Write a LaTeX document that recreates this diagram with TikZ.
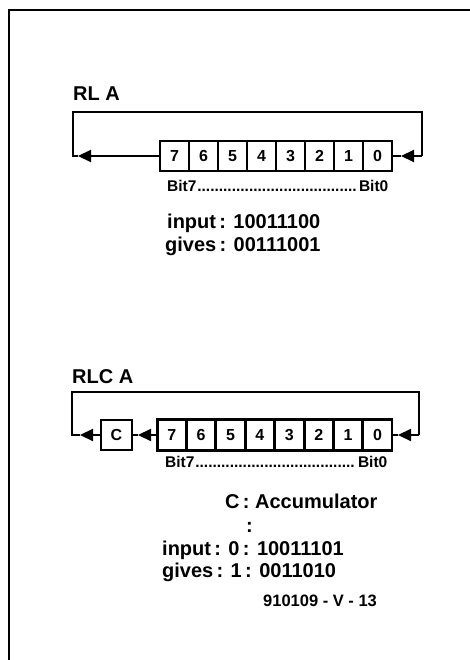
\documentclass[tikz,border=0pt]{standalone}
\usepackage{fontspec}
\setmainfont{Liberation Sans}
\usetikzlibrary{arrows.meta}
\begin{document}
\begin{tikzpicture}[x=1pt,y=-1pt,
  bitbox/.style={draw,line width=2.6pt,minimum width=29pt,minimum height=30pt,inner sep=0pt,font=\bfseries\fontsize{16}{16}\selectfont},
  wire/.style={line width=2.2pt},
  arr/.style={wire,-{Triangle[length=13pt,width=12pt]}},
  big/.style={font=\bfseries\fontsize{20}{20}\selectfont,inner sep=0pt,anchor=base west},
  small/.style={font=\bfseries\fontsize{15.5}{15.5}\selectfont,inner sep=0pt,anchor=base west},
  frame/.style={line width=2.2pt}]
\fill[white] (0,0) rectangle (470,660);
\useasboundingbox (0,0) rectangle (470,660);
\draw[frame] (9,660) -- (9,10) -- (470,10);

% ---------- RL A ----------
\node[big] (rlt) at (73,101) {RL A};
\foreach \b [count=\i from 0] in {7,6,5,4,3,2,1,0}
  \node[bitbox] (r\b) at ({174.5+29*\i},156) {\b};
\coordinate (rla) at (78,156);
\coordinate (rlc) at (73,156);
\coordinate (rtl) at (73,112);
\coordinate (rtr) at (422,112);
\coordinate (rrc) at (422,156);
\coordinate (rra) at (401,156);
\draw[arr] (r7.west) -- (rla);
\draw[wire] (rla) -- (rlc) -- (rtl) -- (rtr) -- (rrc);
\draw[arr] (rrc) -- (rra);
\draw[wire] (rra) -- (r0.east);
\node[small] (rbits) at (167,192) {\makebox[221pt][s]{Bit7\leaders\hbox{.}\hfill Bit0}};
\node[big] (rin) at (167,228) {input\,: 10011100};
\node[big] (rgv) at (165,251) {gives\,: 00111001};

% ---------- RLC A ----------
\node[big] (rlct) at (72,383) {RLC A};
\foreach \b [count=\i from 0] in {7,6,5,4,3,2,1,0}
  \node[bitbox,minimum height=31pt] (c\b) at ({171.7+29.4*\i},435) {\b};
\node[bitbox,minimum width=31pt,minimum height=30pt] (cc) at (116.5,435) {C};
\coordinate (cla) at (80,435);
\coordinate (clc) at (72,435);
\coordinate (ctl) at (72,392);
\coordinate (ctr) at (419,392);
\coordinate (crc) at (419,435);
\coordinate (cra) at (398,435);
\coordinate (cma) at (138,435);
\draw[arr] (c7.west) -- (cma);
\draw[wire] (cma) -- (cc.east);
\draw[arr] (cc.west) -- (cla);
\draw[wire] (cla) -- (clc) -- (ctl) -- (ctr) -- (crc);
\draw[arr] (crc) -- (cra);
\draw[wire] (cra) -- (c0.east);
\node[small] (cbits) at (165,467) {\makebox[222pt][s]{Bit7\leaders\hbox{.}\hfill Bit0}};
\node[big] (cacc) at (225,508) {C\,: Accumulator};
\node[big] (ccol) at (246,532) {:};
\node[big] (cin) at (162,555) {input\,: 0\,: 10011101};
\node[big] (cgv) at (162,577) {gives\,: 1\,: 0011010};
\node[small,font=\bfseries\fontsize{16.5}{16.5}\selectfont] (fig) at (263,606) {910109 - V - 13};
\end{tikzpicture}
\end{document}
